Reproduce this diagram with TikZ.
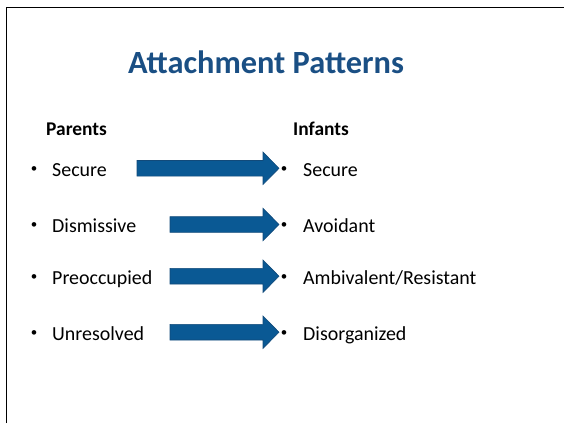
\documentclass[tikz,border=0pt]{standalone}
\usepackage{fontspec}
\setmainfont{Carlito}
\definecolor{titleblue}{HTML}{1A4F84}
\definecolor{arrowfill}{HTML}{0A5994}
\definecolor{arrowline}{HTML}{124A7A}
\begin{document}
\begin{tikzpicture}[x=1bp,y=-1bp,
  titletext/.style={font=\fontsize{32.5}{38}\selectfont\bfseries,text=titleblue,inner sep=0,anchor=base},
  headtext/.style={font=\fontsize{19.5}{23}\selectfont\bfseries,anchor=base west,inner sep=0},
  itemtext/.style={font=\fontsize{20}{24}\selectfont,anchor=base west,inner sep=0},
  bullet/.style={font=\fontsize{13}{15}\selectfont,anchor=base,inner sep=0},
  blockarrow/.style={fill=arrowfill,draw=arrowline,line width=0.6bp}]
\useasboundingbox (0,0) rectangle (564,423);
\draw[line width=1.5bp] (6.5,423) -- (6.5,7.5) -- (564,7.5);
\node[titletext] (title) at (266,73) {Attachment Patterns};
\node[headtext] (parents) at (46,135) {Parents};
\node[headtext] (infants) at (293,135) {Infants};
% left items
\foreach \y/\t/\n in {176/Secure/pa, 232/Dismissive/pb, 284/Preoccupied/pc, 340/Unresolved/pd}{
  \node[bullet] (b\n) at (34,\y-3.5) {•};
  \node[itemtext] (\n) at (52,\y) {\t};
}
% right items
\foreach \y/\t/\n in {176/Secure/ia, 232/Avoidant/ib, 284/Ambivalent\slash Resistant/ic, 340/Disorganized/id}{
  \node[bullet] (b\n) at (284,\y-3.5) {•};
  \node[itemtext] (\n) at (303,\y) {\t};
}
% block arrows
\foreach \xs/\yc in {137/168.3, 170/224.5, 170/276.2, 170/332.2}{
  \draw[blockarrow] (\xs,\yc-7.8) -- (263,\yc-7.8) -- (263,\yc-16.2) -- (279,\yc)
    -- (263,\yc+16.2) -- (263,\yc+7.8) -- (\xs,\yc+7.8) -- cycle;
}
\end{tikzpicture}
\end{document}
